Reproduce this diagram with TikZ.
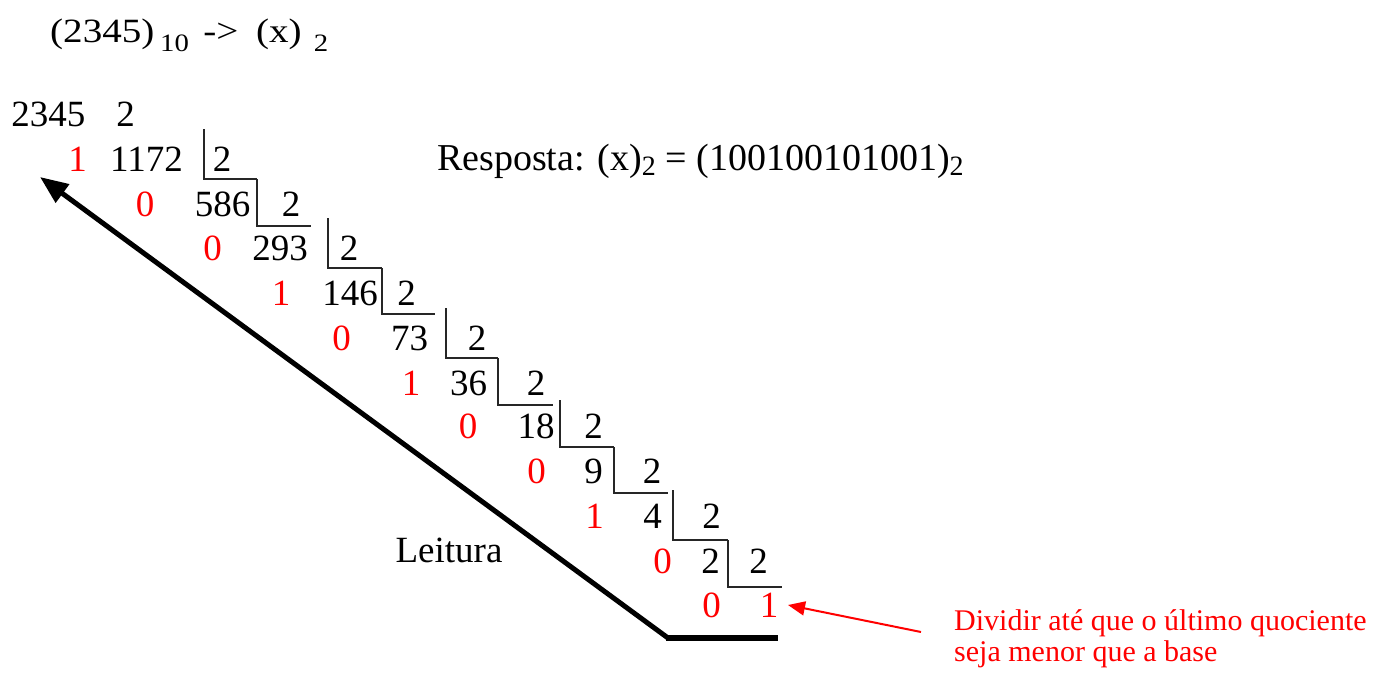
\documentclass[tikz,border=0pt]{standalone}
\usepackage{fontspec}
\setmainfont{Liberation Serif}
\usetikzlibrary{arrows.meta}
\begin{document}
\begin{tikzpicture}[x=1pt,y=-1pt,
  num/.style={anchor=base,inner sep=0pt,font=\fontsize{37}{40}\selectfont},
  rem/.style={num,text=red},
  bar/.style={line width=2pt,draw=black!85},
  lbl/.style={anchor=base west,inner sep=0pt},
  redlbl/.style={lbl,text=red,font=\fontsize{30}{32}\selectfont},
  ]
\useasboundingbox (0,0) rectangle (1377,685);

% title
\node[lbl,font=\fontsize{34}{36}\selectfont] (title) at (50,43)
  {\scalebox{1.15}[1]{(2345)\hspace{5pt}\raisebox{-9pt}{\fontsize{25}{25}\selectfont 10}\hspace{4pt} -> \hspace{7pt}(x) \hspace{2pt}\raisebox{-9pt}{\fontsize{25}{25}\selectfont 2}}};

% answer
\node[lbl,font=\fontsize{38}{40}\selectfont] (resp) at (437,170)
  {Resposta: (x)\raisebox{-5pt}{\fontsize{28}{28}\selectfont 2} = (100100101001)\raisebox{-5pt}{\fontsize{28}{28}\selectfont 2}};

% first row
\node[num] (q0) at (48.5,126) {2345};
\node[num] (d0) at (125.5,126) {2};

% division rows: index / baseline / remainder x / remainder / quotient x / quotient / divisor x
\foreach \i/\y/\rx/\r/\qx/\q/\dx in {
  1/171/77.5/1/146.5/1172/222,
  2/216/145/0/222.5/586/291,
  3/260/212.5/0/280/293/349,
  4/305/281/1/350/146/406.5,
  5/350/341.5/0/409.5/73/477,
  6/395/411/1/468.5/36/536,
  7/438/468/0/536/18/593.5,
  8/483/536.5/0/593.5/9/652,
  9/528/594.5/1/652.5/4/711.5,
  10/573/662.5/0/710.5/2/758.5}{
  \node[rem] (r\i) at (\rx,\y) {\r};
  \node[num] (q\i) at (\qx,\y) {\q};
  \node[num] (d\i) at (\dx,\y) {2};
}
\node[rem] (r11) at (711.5,617) {0};
\node[rem] (q11) at (769,617) {1};

% division brackets
\foreach \xv/\yt/\yh/\xe in {204/129/179/257, 257/179/226/311, 328/218/268/382,
  382/268/314/435, 446/308/358/498, 498/358/405/553, 560/400/447/614,
  614/447/493/668, 673/490/540/728, 728/540/587/782}
  \draw[bar] (\xv,\yt) -- (\xv,\yh) -- (\xe,\yh);

% reading arrow
\coordinate (lb) at (668,638);
\coordinate (lt) at (40,177);
\coordinate (le) at (778,638);
\draw[line width=5pt,-{Triangle[length=28pt,width=22pt]}] (lb) -- (lt);
\draw[line width=6pt] ([xshift=-2pt]lb) -- (le);
\node[anchor=base,inner sep=0pt,font=\fontsize{37}{40}\selectfont] (leit) at (449,562) {Leitura};

% note
\node[redlbl] (n1) at (954,630) {Dividir até que o último quociente};
\node[redlbl] (n2) at (954,661) {seja menor que a base};
\coordinate (at) at (921,632);
\coordinate (ah) at (788,605);
\draw[red,line width=2pt,-{Triangle[length=17pt,width=14pt]}] (at) -- (ah);
\end{tikzpicture}
\end{document}
